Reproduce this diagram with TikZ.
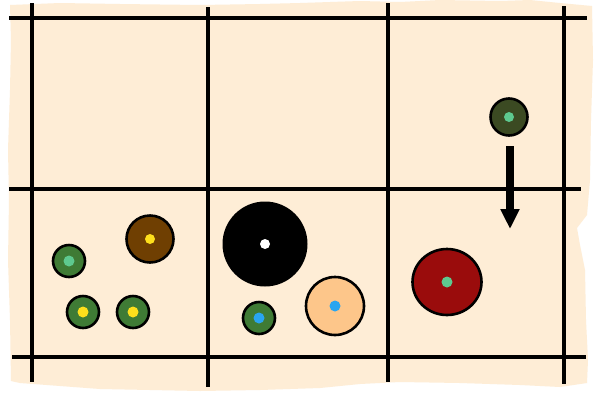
\documentclass[tikz,border=0pt]{standalone}
\usetikzlibrary{arrows.meta,shapes.geometric}
\definecolor{paper}{HTML}{FEEDD6}
\definecolor{darkolive}{HTML}{3B4A22}
\definecolor{mint}{HTML}{5EC98F}
\definecolor{leaf}{HTML}{3F7B35}
\definecolor{brownc}{HTML}{6F3F02}
\definecolor{sun}{HTML}{FDDF1C}
\definecolor{sky}{HTML}{29A5F0}
\definecolor{peach}{HTML}{FDC68A}
\definecolor{wine}{HTML}{9A0C0C}
\tikzset{
  gridline/.style={line width=4.8pt, black},
  disc/.style={circle, draw=black, line width=2.6pt, inner sep=0pt},
  dot/.style={circle, inner sep=0pt, minimum size=11pt},
}
\begin{document}
\begin{tikzpicture}[x=1pt,y=-1pt]
\useasboundingbox (0,0) rectangle (596,394);
\fill[white] (0,0) rectangle (596,394);
% torn paper
\fill[paper] (10,5) -- (60,3) -- (120,4) -- (200,5) -- (260,4) -- (300,3) -- (360,1) -- (400,2) -- (440,0) -- (500,1) -- (530,0) -- (560,3) -- (592,6)
  -- (593,60) -- (591,120) -- (590,180) -- (587,215) -- (577,228) -- (580,245) -- (585,270) -- (586,320) -- (588,360) -- (587,383)
  -- (560,387) -- (520,385) -- (460,383) -- (400,382) -- (360,384) -- (320,388) -- (260,390) -- (200,391) -- (150,390) -- (100,389) -- (60,386) -- (20,383) -- (11,381)
  -- (10,320) -- (8,260) -- (9,200) -- (8,150) -- (10,90) -- (11,40) -- cycle;
% grid
\coordinate (h1a) at (9,18);   \coordinate (h1b) at (587,18);
\coordinate (h2a) at (9,189);  \coordinate (h2b) at (581,189);
\coordinate (h3a) at (12,357); \coordinate (h3b) at (586,357);
\coordinate (v1a) at (32,3);   \coordinate (v1b) at (32,382);
\coordinate (v2a) at (208,7);  \coordinate (v2b) at (208,387);
\coordinate (v3a) at (388,3);  \coordinate (v3b) at (388,382);
\coordinate (v4a) at (564,6);  \coordinate (v4b) at (564,384);
\draw[gridline] (h1a) -- (h1b);
\draw[gridline] (h2a) -- (h2b);
\draw[gridline] (h3a) -- (h3b);
\draw[gridline] (v1a) -- (v1b);
\draw[gridline] (v2a) -- (v2b);
\draw[gridline] (v3a) -- (v3b);
\draw[gridline] (v4a) -- (v4b);
% top right piece and arrow
\node[disc, fill=darkolive, minimum size=37pt] (tr) at (509,117) {};
\node[dot, fill=mint, minimum size=10pt] (trd) at (tr) {};
\coordinate (a1) at (510,146);
\coordinate (a2) at (510,229);
\draw[line width=8.5pt, -{Triangle[width=18pt,length=20pt]}] (a1) -- (a2);
% bottom left cell
\node[disc, fill=brownc, minimum size=47pt] (br) at (150,239) {};
\node[dot, fill=sun, minimum size=10pt] (brd) at (br) {};
\node[disc, fill=leaf, minimum size=32pt] (g1) at (69,261) {};
\node[dot, fill=mint] (g1d) at (g1) {};
\node[disc, fill=leaf, minimum size=32pt] (g2) at (83,312) {};
\node[dot, fill=sun] (g2d) at (g2) {};
\node[disc, fill=leaf, minimum size=32pt] (g3) at (133,312) {};
\node[dot, fill=sun] (g3d) at (g3) {};
% bottom middle cell
\node[circle, fill=black, inner sep=0pt, minimum size=85pt] (bk) at (265,244) {};
\node[dot, fill=white, minimum size=10pt] (bkd) at (bk) {};
\node[disc, fill=leaf, minimum size=32pt] (g4) at (259,318) {};
\node[dot, fill=sky] (g4d) at (g4) {};
\node[disc, fill=peach, minimum size=58pt] (pc) at (335,306) {};
\node[dot, fill=sky] (pcd) at (pc) {};
% bottom right cell
\node[ellipse, draw=black, line width=2.6pt, inner sep=0pt, fill=wine, minimum width=69pt, minimum height=66pt] (rd) at (447,282) {};
\node[dot, fill=mint] (rdd) at (rd) {};
\end{tikzpicture}
\end{document}
